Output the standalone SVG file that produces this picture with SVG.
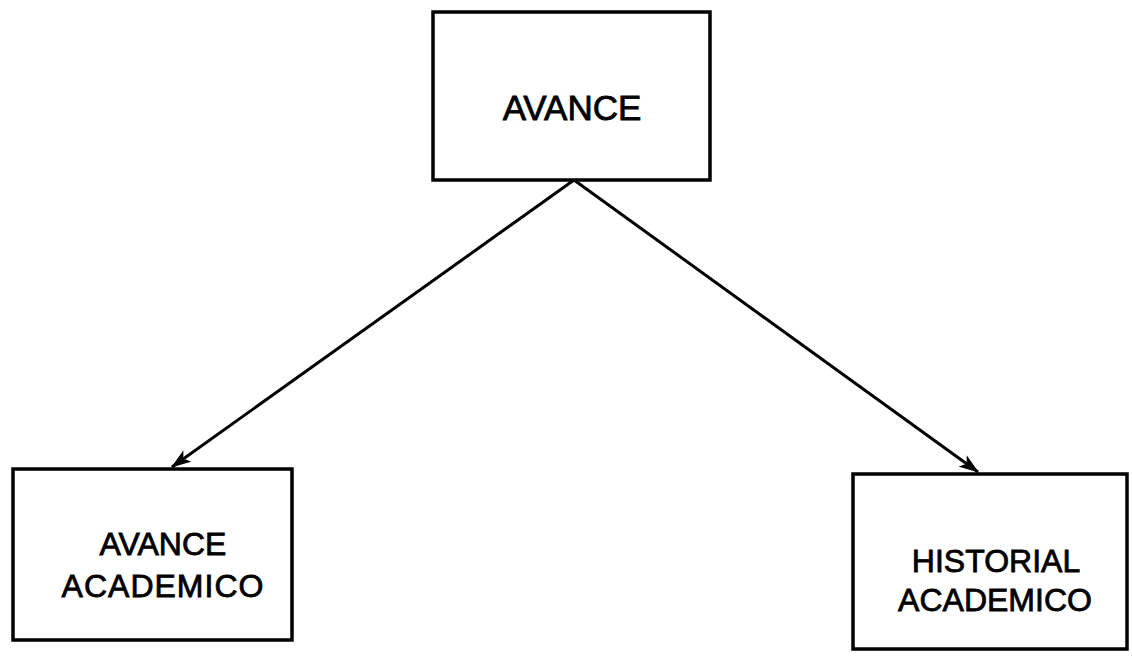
<svg xmlns="http://www.w3.org/2000/svg" width="1132" height="657" viewBox="0 0 1132 657">
<style>
.box{fill:#fff;stroke:#000;stroke-width:3.5}
.lbl{font-family:"Liberation Sans",Arial,sans-serif;fill:#000;text-anchor:middle;stroke:#000;stroke-width:0.8}
.conn{stroke:#000;stroke-width:3;fill:none}
</style>
<defs>
<marker id="arr" viewBox="0 0 20 14" refX="19" refY="7" markerWidth="20" markerHeight="14" markerUnits="userSpaceOnUse" orient="auto">
<path d="M0,0 L20,7 L0,14 L5,7 Z" fill="#000"/>
</marker>
</defs>
<rect width="1132" height="657" fill="#fff"/>
<g id="connectors">
<line class="conn" x1="574" y1="180" x2="172" y2="467" marker-end="url(#arr)"/>
<line class="conn" x1="574" y1="180" x2="978" y2="472" marker-end="url(#arr)"/>
</g>
<g id="avance">
<rect class="box" x="433" y="12" width="277" height="168"/>
<text class="lbl" x="572" y="120" font-size="35">AVANCE</text>
</g>
<g id="avance-academico">
<rect class="box" x="13" y="469" width="279" height="171"/>
<text class="lbl" x="163" y="555" font-size="32">AVANCE</text>
<text class="lbl" x="163" y="597" font-size="32" letter-spacing="1">ACADEMICO</text>
</g>
<g id="historial-academico">
<rect class="box" x="853" y="474" width="274" height="175"/>
<text class="lbl" x="996" y="572" font-size="32">HISTORIAL</text>
<text class="lbl" x="995" y="611" font-size="32">ACADEMICO</text>
</g>
</svg>
